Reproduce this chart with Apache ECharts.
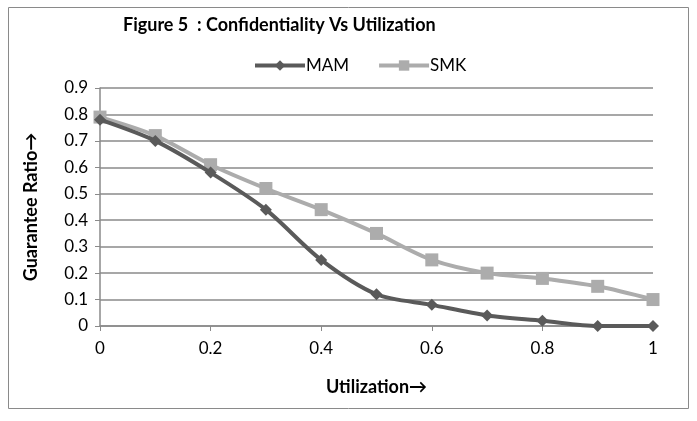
<!DOCTYPE html>
<html><head><meta charset="utf-8">
<script src="https://cdn.jsdelivr.net/npm/echarts@6/dist/echarts.min.js"></script>
<style>html,body{margin:0;padding:0;background:#fff}#c{width:697px;height:421px}</style>
</head><body><div id="c"></div>
<script>
const xValues = [0, 0.1, 0.2, 0.3, 0.4, 0.5, 0.6, 0.7, 0.8, 0.9, 1];
const mam = [0.78, 0.70, 0.58, 0.44, 0.25, 0.12, 0.08, 0.04, 0.02, 0.0, 0.0];
const smk = [0.79, 0.72, 0.61, 0.52, 0.44, 0.35, 0.25, 0.20, 0.18, 0.15, 0.10];
const titleText = 'Figure 5  : Confidentiality Vs Utilization';
const font = 'Lato, "Open Sans", sans-serif';
const chart = echarts.init(document.getElementById('c'));
chart.setOption({
  animation: false,
  graphic: [{type:'rect', shape:{x:8.5,y:7.5,width:680,height:401}, style:{fill:'none', stroke:'#8a8a8a', lineWidth:1}, silent:true}],
  title: {text: titleText, left: 118, top: 11, textStyle:{fontFamily:font, fontSize:18, fontWeight:'bold', color:'#000'}},
  legend: {top: 52, left: 248, itemWidth: 50, itemHeight: 13, itemGap: 28,
    lineStyle:{width:4}, textStyle:{fontFamily:font, fontSize:17, color:'#000', padding:[0,0,0,-4]},
    data:['MAM','SMK']},
  grid: {left: 100, right: 44, top: 88, bottom: 95},
  xAxis: {type:'value', min:0, max:1, interval:0.2, name:'Utilization\u2192', nameLocation:'middle', nameGap:52,
    nameTextStyle:{fontFamily:font, fontSize:18, fontWeight:'bold', color:'#000'},
    axisLine:{lineStyle:{color:'#8a8a8a', width:1.5}}, axisTick:{show:true, length:5, lineStyle:{color:'#8a8a8a'}},
    axisLabel:{fontFamily:font, fontSize:17, color:'#000', margin:14}, splitLine:{show:false}},
  yAxis: {type:'value', min:0, max:0.9, interval:0.1, name:'Guarantee Ratio\u2192', nameLocation:'middle', nameGap:60,
    nameTextStyle:{fontFamily:font, fontSize:18, fontWeight:'bold', color:'#000'},
    axisLine:{show:true, lineStyle:{color:'#8a8a8a', width:1.5}}, axisTick:{show:true, length:5, lineStyle:{color:'#8a8a8a'}},
    axisLabel:{fontFamily:font, fontSize:17, color:'#000', margin:12, formatter:v=>String(+v.toFixed(1))},
    splitLine:{lineStyle:{color:'#8a8a8a', width:1.5}}},
  series: [
    {name:'MAM', type:'line', smooth:0.3, data:xValues.map((x,i)=>[x,mam[i]]), symbol:'diamond', symbolSize:12,
     lineStyle:{color:'#5a5a5a', width:4}, itemStyle:{color:'#5a5a5a'}, z:3},
    {name:'SMK', type:'line', smooth:0.3, data:xValues.map((x,i)=>[x,smk[i]]), symbol:'rect', symbolSize:13,
     lineStyle:{color:'#acacac', width:4}, itemStyle:{color:'#acacac'}, z:2}
  ]
});
</script></body></html>
